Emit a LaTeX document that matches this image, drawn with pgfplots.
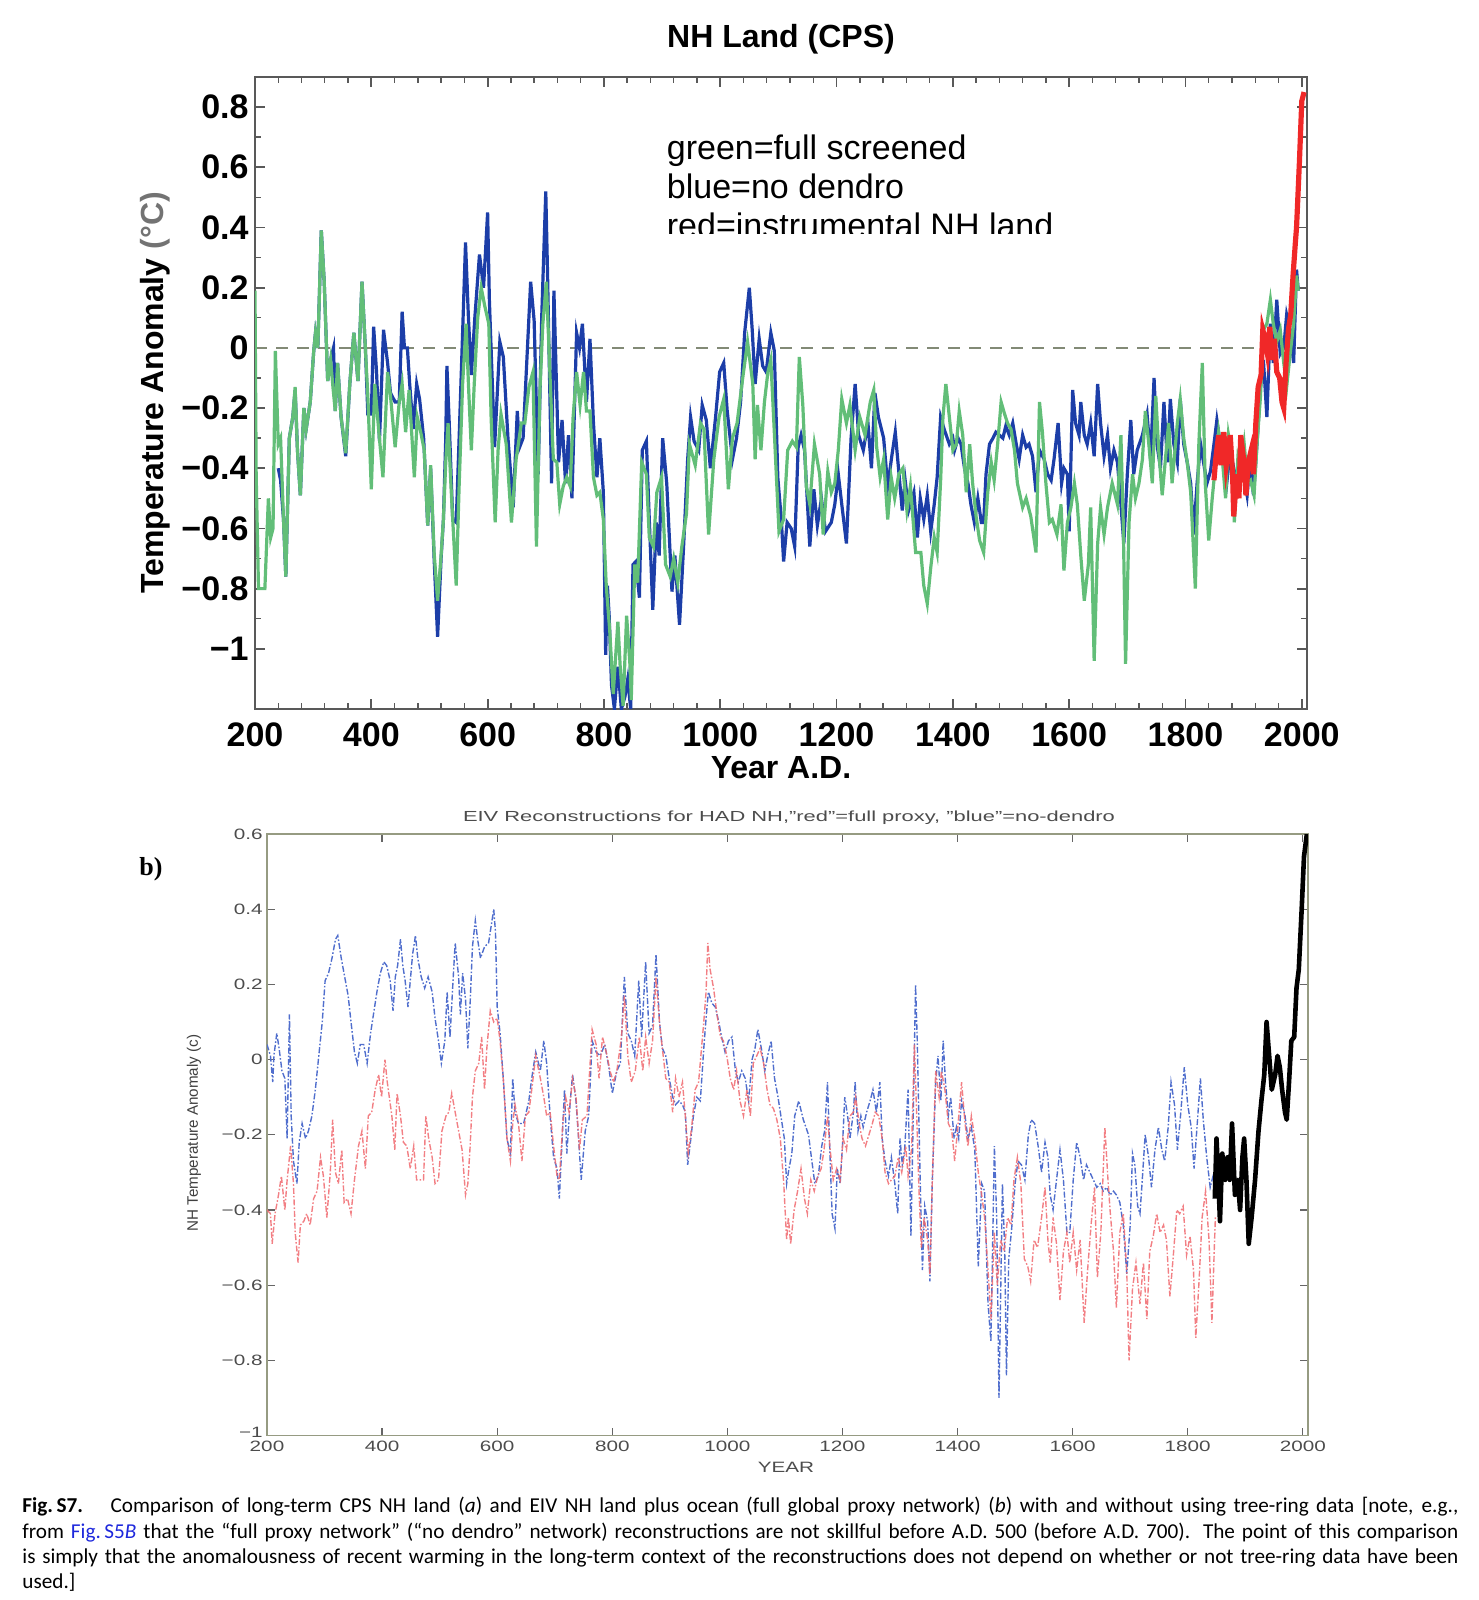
\documentclass[border=0pt]{standalone}
\usepackage{pgfplots}
\pgfplotsset{compat=1.18}
\usepackage{fontspec}
\setmainfont{Liberation Sans}
\newfontfamily\capfont{Carlito}
\newfontfamily\serifb{Liberation Serif}
\definecolor{cgreen}{RGB}{98,190,120}
\definecolor{cblue}{RGB}{28,62,168}
\definecolor{cred}{RGB}{240,40,40}
\definecolor{bblue}{RGB}{80,110,205}
\definecolor{bred}{RGB}{240,105,110}
\definecolor{zline}{RGB}{130,138,118}
\definecolor{frametwo}{RGB}{150,155,130}
\definecolor{linkblue}{RGB}{30,40,220}
\newcommand{\hs}[1]{\scalebox{1.38}[1]{#1}}
\begin{document}
\begin{tikzpicture}
\useasboundingbox (0,0) rectangle (739pt,-800pt);
% ---------------- top panel ----------------
\begin{axis}[
  at={(127.5pt,-354.5pt)}, anchor=south west, scale only axis,
  width=526pt, height=316pt,
  xmin=200, xmax=2009, ymin=-1.2, ymax=0.9,
  xtick={200,400,600,800,1000,1200,1400,1600,1800,2000},
  xticklabels={200,400,600,800,1000,1200,1400,1600,1800,2000},
  ytick={-1,-0.8,-0.6,-0.4,-0.2,0,0.2,0.4,0.6,0.8},
  yticklabels={−1,−0.8,−0.6,−0.4,−0.2,0,0.2,0.4,0.6,0.8},
  minor x tick num=4, minor y tick num=1,
  tick pos=both, tick align=inside,
  major tick length=5pt, minor tick length=3pt,
  axis line style={draw=black!65, line width=0.9pt},
  every tick/.style={black!65, line width=0.9pt},
  every minor tick/.style={black!65, line width=0.7pt},
  tick label style={font=\bfseries\fontsize{17}{20}\selectfont},
  xticklabel style={inner sep=0pt, yshift=-6.5pt},
  yticklabel style={inner sep=0pt, xshift=-3pt},
]
\addplot[zline, line width=1pt, dash pattern=on 6pt off 4.5pt] coordinates {(200,0) (2009,0)};
% blue = no dendro
\addplot[cblue, line width=1.6pt] coordinates {
(240,-0.40)(244,-0.44)(249,-0.57)(253,-0.76)(259,-0.30)(265,-0.23)(269,-0.14)(273,-0.34)(278,-0.49)(284,-0.20)(288,-0.27)(295,-0.18)(301,-0.01)(304,0.05)(308,0.00)(314,0.39)(319,0.22)(325,-0.11)(330,-0.04)(335,0.00)(338,-0.21)(342,-0.05)(348,-0.23)(356,-0.36)(363,-0.12)(370,0.05)(377,-0.11)(384,0.22)(390,-0.01)(394,-0.22)(400,-0.22)(404,0.07)(409,-0.08)(414,-0.31)(421,0.06)(428,-0.05)(433,-0.15)(441,-0.18)(448,-0.18)(453,0.12)(457,0.00)(462,0.00)(466,-0.12)(472,-0.27)(478,-0.12)(483,-0.17)(490,-0.30)(497,-0.59)(502,-0.40)(508,-0.70)(514,-0.96)(520,-0.70)(524,-0.57)(528,-0.30)(530,-0.06)(534,-0.25)(540,-0.57)(546,-0.58)(551,-0.30)(557,0.05)(562,0.35)(567,0.10)(572,-0.09)(578,0.10)(586,0.31)(593,0.20)(600,0.45)(603,0.16)(612,-0.33)(621,0.02)(627,-0.03)(635,-0.30)(644,-0.53)(651,-0.21)(655,-0.33)(661,-0.30)(674,0.22)(680,0.09)(687,-0.42)(693,0.10)(700,0.52)(703,0.25)(710,-0.45)(714,0.19)(722,-0.38)(728,-0.24)(734,-0.45)(739,-0.29)(745,-0.50)(753,0.05)(758,0.00)(763,0.08)(770,-0.18)(776,0.03)(782,-0.25)(788,-0.43)(793,-0.30)(799,-0.48)(803,-1.02)
(806,-0.79)(809,-0.89)(813,-1.12)(818,-1.20)(824,-1.06)(830,-1.20)(836,-1.16)(841,-1.10)(846,-1.20)(850,-0.72)(855,-0.71)(861,-0.83)(866,-0.34)(873,-0.31)(878,-0.57)(884,-0.87)(890,-0.58)(895,-0.69)(901,-0.30)(908,-0.45)(917,-0.81)(922,-0.69)(930,-0.92)(937,-0.66)(944,-0.37)(949,-0.23)(955,-0.31)(963,-0.34)(969,-0.19)(976,-0.24)(983,-0.40)(992,-0.23)(999,-0.08)(1006,-0.05)(1012,-0.21)(1021,-0.37)(1028,-0.30)(1035,-0.18)(1042,0.05)(1050,0.20)(1055,0.06)(1060,-0.12)(1067,0.03)(1073,-0.06)(1079,-0.08)(1087,0.05)(1093,-0.01)(1099,-0.43)(1105,-0.57)(1109,-0.71)(1115,-0.58)(1122,-0.60)(1128,-0.66)(1134,-0.33)(1139,-0.29)(1145,-0.34)(1154,-0.66)(1161,-0.47)(1167,-0.59)(1174,-0.50)(1181,-0.61)(1191,-0.58)(1197,-0.52)(1203,-0.42)(1209,-0.52)(1217,-0.65)(1225,-0.30)(1232,-0.12)(1238,-0.29)(1246,-0.34)(1254,-0.25)(1260,-0.40)(1266,-0.15)(1272,-0.23)(1281,-0.30)(1288,-0.46)(1295,-0.36)(1301,-0.28)(1307,-0.41)(1313,-0.54)(1318,-0.44)(1324,-0.54)(1333,-0.48)(1339,-0.63)(1344,-0.50)(1350,-0.57)(1356,-0.49)(1362,-0.61)(1368,-0.52)(1373,-0.43)(1379,-0.23)(1385,-0.27)(1394,-0.32)(1400,-0.30)
(1403,-0.34)(1409,-0.30)(1414,-0.32)(1420,-0.40)(1426,-0.45)(1431,-0.52)(1437,-0.58)(1443,-0.50)(1449,-0.58)(1453,-0.58)(1457,-0.42)(1463,-0.32)(1469,-0.30)(1474,-0.28)(1480,-0.29)(1486,-0.30)(1491,-0.26)(1497,-0.29)(1503,-0.25)(1509,-0.32)(1514,-0.37)(1520,-0.29)(1526,-0.33)(1531,-0.32)(1537,-0.36)(1543,-0.48)(1549,-0.34)(1557,-0.37)(1563,-0.42)(1569,-0.44)(1574,-0.37)(1581,-0.25)(1587,-0.45)(1591,-0.40)(1597,-0.42)(1600,-0.61)(1606,-0.14)(1611,-0.25)(1617,-0.29)(1620,-0.18)(1626,-0.29)(1631,-0.32)(1637,-0.25)(1643,-0.36)(1649,-0.12)(1654,-0.25)(1660,-0.36)(1666,-0.29)(1671,-0.40)(1677,-0.34)(1683,-0.38)(1689,-0.52)(1694,-0.65)(1700,-0.42)(1706,-0.24)(1711,-0.42)(1717,-0.34)(1726,-0.29)(1734,-0.22)(1740,-0.37)(1746,-0.10)(1751,-0.32)(1757,-0.40)(1763,-0.18)(1769,-0.38)(1774,-0.17)(1780,-0.32)(1786,-0.38)(1791,-0.17)(1797,-0.32)(1803,-0.38)(1809,-0.45)(1814,-0.62)(1820,-0.45)(1826,-0.32)(1831,-0.38)(1837,-0.45)(1843,-0.41)(1849,-0.32)(1854,-0.24)(1860,-0.32)(1866,-0.40)(1871,-0.45)(1877,-0.34)(1883,-0.40)(1889,-0.45)(1894,-0.40)(1900,-0.42)(1906,-0.49)(1911,-0.38)(1917,-0.49)(1923,-0.32)(1929,-0.13)(1934,-0.04)(1940,-0.23)(1946,0.08)(1951,-0.05)(1957,0.16)(1963,-0.02)(1969,0.00)(1974,0.11)(1980,0.06)(1986,-0.05)(1991,0.26)(1994,0.19)
};
% green = full screened
\addplot[cgreen, line width=1.6pt] coordinates {
(200,0.19)(202,-0.42)(206,-0.80)(217,-0.80)(223,-0.50)(227,-0.63)(231,-0.60)(235,-0.01)(240,-0.32)(244,-0.30)(249,-0.57)(253,-0.76)(259,-0.30)(265,-0.23)(269,-0.13)(273,-0.34)(278,-0.49)(284,-0.20)(288,-0.27)(295,-0.18)(301,-0.01)(304,0.05)(308,0.00)(314,0.39)(319,0.22)(325,-0.11)(330,-0.04)(334,-0.13)(338,-0.21)(342,-0.05)(348,-0.23)(356,-0.35)(363,-0.12)(370,0.05)(377,-0.11)(384,0.22)(390,-0.01)(394,-0.16)(400,-0.47)(406,-0.12)(413,-0.28)(420,-0.43)(428,-0.08)(433,-0.16)(441,-0.33)(448,-0.18)(453,-0.12)(459,-0.28)(465,-0.14)(474,-0.43)(479,-0.23)(485,-0.28)(491,-0.34)(497,-0.59)(502,-0.39)(508,-0.68)(514,-0.84)(520,-0.69)(524,-0.57)(528,-0.38)(532,-0.25)(537,-0.46)(546,-0.79)(551,-0.46)(557,-0.12)(563,0.08)(567,-0.12)(572,-0.34)(577,-0.12)(583,0.10)(589,0.20)(595,0.14)(602,0.08)(606,-0.23)(613,-0.58)(618,-0.34)(623,-0.22)(632,-0.32)(641,-0.58)(649,-0.37)(658,-0.25)(664,-0.25)(671,-0.13)(678,-0.08)(684,-0.66)(690,-0.14)(695,0.08)(701,0.22)(706,-0.03)(713,-0.37)(719,-0.38)(724,-0.52)(730,-0.46)(736,-0.43)(742,-0.46)(747,-0.23)(753,-0.08)(759,-0.19)(765,-0.08)(770,-0.21)(776,-0.21)(782,-0.43)(788,-0.49)(793,-0.48)(799,-0.57)
(804,-0.79)(810,-0.94)(816,-1.15)(824,-0.91)(828,-1.06)(833,-1.19)(839,-0.89)(845,-1.06)(847,-1.17)(853,-0.72)(858,-0.78)(865,-0.38)(873,-0.42)(878,-0.63)(885,-0.66)(891,-0.48)(899,-0.43)(906,-0.72)(914,-0.76)(920,-0.70)(927,-0.78)(934,-0.66)(942,-0.55)(947,-0.32)(957,-0.39)(966,-0.25)(972,-0.27)(980,-0.62)(989,-0.37)(998,-0.23)(1006,-0.17)(1014,-0.47)(1021,-0.30)(1029,-0.25)(1038,-0.11)(1047,0.02)(1056,-0.12)(1060,-0.37)(1064,-0.19)(1070,-0.34)(1076,-0.18)(1082,-0.08)(1087,-0.04)(1093,-0.28)(1101,-0.61)(1109,-0.57)(1116,-0.34)(1124,-0.31)(1131,-0.33)(1136,-0.03)(1142,-0.19)(1148,-0.46)(1154,-0.52)(1162,-0.32)(1171,-0.42)(1177,-0.62)(1185,-0.41)(1191,-0.48)(1197,-0.45)(1203,-0.34)(1209,-0.17)(1217,-0.25)(1223,-0.19)(1232,-0.34)(1240,-0.23)(1249,-0.29)(1258,-0.18)(1264,-0.14)(1269,-0.33)(1275,-0.43)(1281,-0.37)(1288,-0.57)(1294,-0.43)(1300,-0.50)(1307,-0.42)(1314,-0.40)(1321,-0.54)(1327,-0.46)(1336,-0.68)(1345,-0.68)(1350,-0.79)(1356,-0.85)(1362,-0.73)(1368,-0.63)(1373,-0.68)(1379,-0.44)(1383,-0.23)(1388,-0.12)(1394,-0.23)(1400,-0.34)
(1406,-0.32)(1411,-0.21)(1417,-0.29)(1423,-0.48)(1429,-0.32)(1434,-0.45)(1440,-0.56)(1446,-0.64)(1453,-0.68)(1460,-0.48)(1466,-0.38)(1471,-0.44)(1477,-0.32)(1483,-0.18)(1489,-0.22)(1494,-0.25)(1500,-0.27)(1506,-0.34)(1511,-0.45)(1520,-0.53)(1526,-0.50)(1534,-0.56)(1543,-0.68)(1549,-0.18)(1554,-0.28)(1560,-0.45)(1566,-0.58)(1571,-0.57)(1579,-0.62)(1586,-0.52)(1591,-0.74)(1597,-0.58)(1603,-0.53)(1609,-0.45)(1614,-0.52)(1620,-0.69)(1626,-0.84)(1633,-0.72)(1637,-0.53)(1643,-1.04)(1649,-0.65)(1654,-0.53)(1660,-0.62)(1666,-0.53)(1674,-0.45)(1683,-0.52)(1689,-0.29)(1693,-0.58)(1697,-1.05)(1703,-0.58)(1709,-0.42)(1714,-0.50)(1720,-0.45)(1726,-0.37)(1731,-0.21)(1737,-0.32)(1743,-0.45)(1749,-0.16)(1754,-0.34)(1760,-0.49)(1766,-0.36)(1771,-0.25)(1777,-0.45)(1786,-0.25)(1791,-0.17)(1797,-0.30)(1803,-0.38)(1809,-0.48)(1817,-0.80)(1823,-0.32)(1829,-0.05)(1834,-0.45)(1840,-0.64)(1846,-0.50)(1851,-0.40)(1857,-0.28)(1863,-0.36)(1869,-0.50)(1874,-0.29)(1880,-0.36)(1884,-0.58)(1890,-0.37)(1895,-0.42)(1901,-0.32)(1907,-0.45)(1912,-0.44)(1918,-0.49)(1923,-0.32)(1929,-0.16)(1934,0.06)(1940,0.08)(1946,0.16)(1951,0.08)(1957,0.02)(1963,0.06)(1969,-0.05)(1974,-0.13)(1980,-0.02)(1986,0.08)(1991,0.24)(1994,0.19)
};
% red = instrumental
\addplot[cred, line width=2.6pt] coordinates {
(1849,-0.44)(1852,-0.37)(1857,-0.29)(1861,-0.39)(1866,-0.28)(1870,-0.39)(1877,-0.29)(1881,-0.42)(1883,-0.56)(1888,-0.42)(1892,-0.50)(1895,-0.29)(1900,-0.37)(1904,-0.49)(1908,-0.38)(1913,-0.34)(1917,-0.42)(1921,-0.25)(1925,-0.13)(1930,-0.09)(1933,0.06)(1937,0.03)(1941,-0.02)(1945,0.07)(1949,-0.04)(1953,0.03)(1957,-0.08)(1962,-0.10)(1966,-0.18)(1969,-0.20)(1973,-0.05)(1977,0.06)(1981,0.11)(1985,0.24)(1989,0.35)(1991,0.40)(1996,0.62)(2000,0.82)(2004,0.85)
};
\end{axis}
% top panel texts
\node[font=\bfseries\fontsize{16}{19}\selectfont] at (390.5pt,-19.5pt) {NH Land (CPS)};
\node[font=\bfseries\fontsize{16}{19}\selectfont, rotate=90] at (77.5pt,-196.5pt) {Temperature Anomaly \textcolor{black!55}{(°C)}};
\node[font=\bfseries\fontsize{16}{19}\selectfont] at (390.5pt,-384pt) {Year A.D.};
\begin{scope}
\clip (0pt,0pt) rectangle (739pt,-116.6pt);
\node[anchor=base west, inner sep=0pt, font=\fontsize{17}{20}\selectfont] at (333.25pt,-80pt) {green=full screened};
\node[anchor=base west, inner sep=0pt, font=\fontsize{17}{20}\selectfont] at (333.25pt,-99pt) {blue=no dendro};
\node[anchor=base west, inner sep=0pt, font=\fontsize{17}{20}\selectfont] at (333.25pt,-118.5pt) {red=instrumental NH land};
\end{scope}
% ---------------- bottom panel ----------------
\begin{axis}[
  at={(133.5pt,-717.75pt)}, anchor=south west, scale only axis,
  width=520.5pt, height=300.75pt,
  xmin=200, xmax=2009, ymin=-1, ymax=0.6,
  xtick={200,400,600,800,1000,1200,1400,1600,1800,2000},
  xticklabels={\hs{200},\hs{400},\hs{600},\hs{800},\hs{1000},\hs{1200},\hs{1400},\hs{1600},\hs{1800},\hs{2000}},
  ytick={-1,-0.8,-0.6,-0.4,-0.2,0,0.2,0.4,0.6},
  yticklabels={\raisebox{3pt}{\hs{−1}},\hs{−0.8},\hs{−0.6},\hs{−0.4},\hs{−0.2},\hs{0},\hs{0.2},\hs{0.4},\hs{0.6}},
  tick pos=both, tick align=inside, major tick length=4pt,
  axis line style={draw=frametwo, line width=0.9pt},
  every tick/.style={black!60, line width=0.6pt},
  tick label style={font=\fontsize{7.5}{9}\selectfont, text=black!70},
  xticklabel style={inner sep=0pt, yshift=-2.75pt},
  yticklabel style={inner sep=0pt, xshift=-2pt},
]
% blue = no dendro
\addplot[bblue, line width=0.7pt, dash pattern=on 3pt off 1pt on 0.8pt off 1pt] coordinates {
(200,0.04)(206,0.01)(210,-0.06)(212,0.01)(217,0.07)(221,0.03)(226,-0.03)(231,-0.05)(235,-0.21)(239,0.12)(242,-0.15)(246,-0.27)(252,-0.33)(256,-0.22)(261,-0.17)(267,-0.21)(272,-0.19)(278,-0.15)(284,-0.08)(290,0.01)(296,0.10)(301,0.21)(307,0.23)(313,0.27)(319,0.32)(323,0.33)(329,0.27)(335,0.22)(341,0.17)(346,0.10)(352,0.02)(357,-0.01)(362,0.04)(368,0.04)(374,-0.01)(380,0.07)(385,0.12)(391,0.18)(397,0.23)(403,0.26)(408,0.25)(414,0.21)(419,0.13)(423,0.22)(427,0.25)(432,0.32)(436,0.25)(440,0.21)(445,0.14)(449,0.21)(453,0.28)(458,0.33)(462,0.27)(468,0.22)(474,0.19)(480,0.22)(487,0.18)(492,0.11)(498,0.05)(503,-0.01)(509,0.05)(513,0.18)(518,0.06)(524,0.23)(527,0.31)(533,0.22)(536,0.12)(540,0.23)(545,0.16)(549,0.03)(553,0.15)(557,0.30)(562,0.37)(566,0.32)(571,0.27)(578,0.30)(585,0.31)(591,0.37)(594,0.40)(597,0.34)(600,0.14)(605,0.07)(611,-0.06)(617,-0.21)(623,-0.25)(627,-0.05)(631,-0.14)(637,-0.17)(646,-0.17)(655,-0.11)
(660,-0.05)(667,0.02)(675,-0.03)(681,0.05)(686,-0.01)(692,-0.15)(698,-0.26)(704,-0.29)(708,-0.37)(712,-0.24)(717,-0.08)(721,-0.25)(727,-0.11)(731,-0.04)(737,-0.11)(741,-0.20)(746,-0.32)(753,-0.19)(759,-0.15)(765,0.05)(772,0.02)(779,0.01)(787,0.04)(794,-0.02)(800,-0.09)(808,-0.03)(814,-0.01)(821,0.22)(827,0.07)(833,0.05)(839,0.01)(846,0.21)(851,0.06)(858,0.26)(864,0.07)(870,0.09)(876,0.28)(882,0.10)(887,0.03)(893,0.01)(899,-0.05)(905,-0.10)(910,-0.12)(916,-0.11)(922,-0.12)(927,-0.14)(931,-0.28)(935,-0.23)(941,-0.15)(947,-0.10)(953,-0.11)(959,0.03)(963,0.11)(967,0.18)(973,0.15)(979,0.14)(985,0.10)(990,0.06)(996,0.02)(1002,0.05)(1008,0.06)(1014,-0.03)(1019,-0.06)(1025,-0.03)(1031,-0.05)(1037,-0.11)(1043,0.00)(1048,0.03)(1053,0.08)(1059,0.03)(1065,-0.03)(1070,0.01)(1076,0.05)(1082,-0.05)(1088,-0.10)(1093,-0.15)(1099,-0.21)(1103,-0.33)
(1106,-0.30)(1112,-0.25)(1117,-0.15)(1124,-0.11)(1132,-0.16)(1141,-0.20)(1146,-0.26)(1152,-0.33)(1158,-0.31)(1164,-0.23)(1169,-0.19)(1174,-0.06)(1178,-0.24)(1182,-0.41)(1187,-0.45)(1191,-0.29)(1196,-0.33)(1200,-0.23)(1204,-0.10)(1209,-0.15)(1213,-0.21)(1219,-0.14)(1222,-0.06)(1227,-0.19)(1232,-0.15)(1236,-0.18)(1242,-0.14)(1248,-0.11)(1253,-0.08)(1259,-0.14)(1265,-0.06)(1269,-0.21)(1274,-0.27)(1280,-0.31)(1285,-0.26)(1291,-0.33)(1296,-0.41)(1300,-0.21)(1304,-0.28)(1308,-0.24)(1314,-0.08)(1319,-0.47)(1323,-0.15)(1327,0.20)(1330,0.05)(1335,-0.32)(1339,-0.56)(1343,-0.39)(1348,-0.43)(1352,-0.59)(1356,-0.33)(1362,-0.06)(1366,0.01)(1371,-0.11)(1375,0.05)(1379,-0.06)(1384,-0.15)(1388,-0.10)(1394,-0.21)(1398,-0.18)(1402,-0.21)(1407,-0.11)(1413,-0.15)(1418,-0.21)(1424,-0.18)(1430,-0.24)(1436,-0.55)(1442,-0.33)(1447,-0.35)(1453,-0.65)(1458,-0.75)(1464,-0.23)(1468,-0.42)(1472,-0.90)(1478,-0.33)(1482,-0.51)(1485,-0.84)(1489,-0.53)(1494,-0.45)(1500,-0.33)(1505,-0.27)(1511,-0.28)(1517,-0.32)(1523,-0.20)(1528,-0.16)(1534,-0.17)(1540,-0.23)(1546,-0.30)(1552,-0.22)
(1557,-0.26)(1561,-0.36)(1566,-0.40)(1572,-0.32)(1578,-0.24)(1584,-0.32)(1590,-0.46)(1595,-0.46)(1601,-0.32)(1607,-0.22)(1613,-0.26)(1619,-0.32)(1624,-0.28)(1630,-0.30)(1636,-0.32)(1642,-0.34)(1648,-0.33)(1653,-0.35)(1659,-0.34)(1665,-0.36)(1671,-0.35)(1676,-0.36)(1682,-0.38)(1688,-0.44)(1694,-0.57)(1700,-0.44)(1704,-0.25)(1708,-0.28)(1713,-0.39)(1717,-0.41)(1721,-0.32)(1726,-0.20)(1732,-0.26)(1737,-0.34)(1743,-0.24)(1749,-0.18)(1755,-0.24)(1760,-0.27)(1766,-0.18)(1771,-0.06)(1777,-0.12)(1782,-0.24)(1788,-0.14)(1794,-0.02)(1800,-0.12)(1806,-0.18)(1811,-0.29)(1817,-0.16)(1822,-0.05)(1827,-0.16)(1833,-0.26)(1839,-0.34)(1844,-0.31)(1850,-0.33)
};
% red = full proxy
\addplot[bred, opacity=0.85, line width=0.7pt, dash pattern=on 3pt off 1pt on 0.8pt off 1pt] coordinates {
(200,-0.40)(206,-0.41)(209,-0.49)(214,-0.41)(220,-0.36)(225,-0.31)(231,-0.40)(235,-0.32)(241,-0.23)(246,-0.33)(249,-0.46)(254,-0.54)(258,-0.44)(264,-0.43)(269,-0.41)(275,-0.44)(281,-0.37)(287,-0.35)(293,-0.26)(298,-0.31)(304,-0.42)(310,-0.30)(314,-0.16)(319,-0.30)(324,-0.33)(330,-0.24)(334,-0.38)(340,-0.37)(346,-0.41)(352,-0.32)(359,-0.23)(365,-0.19)(371,-0.29)(376,-0.15)(382,-0.14)(388,-0.08)(394,-0.04)(399,-0.10)(405,0.00)(409,-0.06)(417,-0.15)(422,-0.24)(426,-0.09)(432,-0.15)(437,-0.22)(443,-0.23)(449,-0.29)(455,-0.23)(460,-0.32)(466,-0.32)(472,-0.32)(476,-0.15)(481,-0.21)(487,-0.26)(492,-0.33)(498,-0.32)(504,-0.19)(511,-0.15)(516,-0.14)(521,-0.09)(527,-0.14)(533,-0.19)(539,-0.24)(545,-0.36)(549,-0.33)(553,-0.23)(557,-0.10)(562,-0.03)(568,-0.01)(573,0.06)(578,-0.08)(582,0.03)(588,0.13)(594,0.10)(600,0.11)(605,0.05)(611,-0.06)(617,-0.21)(623,-0.27)(627,-0.17)(631,-0.12)(637,-0.17)(643,-0.27)
(649,-0.15)(655,-0.14)(660,-0.08)(667,0.01)(675,-0.05)(681,-0.10)(686,-0.15)(692,-0.14)(698,-0.23)(704,-0.31)(708,-0.32)(714,-0.17)(719,-0.10)(725,-0.14)(731,-0.05)(737,-0.10)(743,-0.24)(748,-0.16)(756,-0.15)(765,0.08)(772,0.04)(777,-0.05)(783,0.06)(791,0.01)(796,-0.03)(802,-0.06)(808,-0.03)(816,0.06)(821,0.17)(827,0.01)(833,-0.06)(840,-0.03)(847,0.06)(853,-0.03)(858,0.06)(864,-0.01)(870,0.05)(876,0.22)(882,0.10)(887,0.03)(893,-0.05)(899,-0.06)(905,-0.14)(910,-0.05)(916,-0.10)(922,-0.06)(928,-0.17)(932,-0.25)(938,-0.18)(944,-0.08)(950,-0.06)(959,0.10)(963,0.18)(966,0.31)(970,0.24)(976,0.19)(982,0.12)(988,0.06)(993,0.05)(999,0.01)(1005,-0.05)(1011,-0.08)(1016,-0.03)(1022,-0.11)(1028,-0.15)(1034,-0.08)(1040,-0.15)(1045,-0.01)(1051,0.01)(1057,0.03)(1063,-0.01)(1069,-0.08)(1074,-0.12)(1080,-0.13)(1086,-0.16)(1092,-0.21)(1098,-0.33)(1103,-0.48)
(1106,-0.42)(1110,-0.49)(1116,-0.40)(1122,-0.35)(1128,-0.29)(1134,-0.37)(1139,-0.41)(1145,-0.32)(1151,-0.35)(1157,-0.31)(1163,-0.29)(1168,-0.24)(1174,-0.15)(1178,-0.23)(1184,-0.32)(1190,-0.29)(1196,-0.32)(1201,-0.21)(1207,-0.24)(1213,-0.15)(1219,-0.14)(1223,-0.10)(1229,-0.17)(1234,-0.21)(1240,-0.23)(1246,-0.20)(1252,-0.17)(1257,-0.14)(1263,-0.15)(1269,-0.21)(1274,-0.30)(1280,-0.33)(1285,-0.32)(1291,-0.31)(1297,-0.26)(1303,-0.30)(1310,-0.23)(1314,-0.31)(1320,-0.24)(1325,0.04)(1329,-0.15)(1333,-0.35)(1337,-0.50)(1342,-0.42)(1348,-0.48)(1352,-0.57)(1356,-0.33)(1362,-0.03)(1368,-0.10)(1372,-0.03)(1378,-0.08)(1384,-0.17)(1390,-0.19)(1395,-0.27)(1401,-0.17)(1407,-0.06)(1413,-0.17)(1418,-0.23)(1424,-0.15)(1430,-0.21)(1436,-0.30)(1442,-0.36)(1447,-0.42)(1453,-0.56)(1458,-0.69)(1464,-0.46)(1469,-0.60)(1475,-0.48)(1481,-0.51)(1487,-0.42)(1493,-0.44)(1498,-0.32)(1504,-0.26)(1510,-0.33)(1516,-0.53)(1522,-0.55)(1527,-0.59)(1533,-0.48)(1539,-0.50)(1546,-0.42)(1552,-0.34)
(1557,-0.48)(1561,-0.54)(1566,-0.42)(1572,-0.49)(1578,-0.64)(1584,-0.51)(1590,-0.46)(1595,-0.54)(1601,-0.46)(1607,-0.56)(1613,-0.48)(1620,-0.70)(1626,-0.56)(1632,-0.44)(1638,-0.34)(1643,-0.58)(1649,-0.46)(1656,-0.18)(1661,-0.31)(1665,-0.40)(1671,-0.51)(1676,-0.66)(1682,-0.46)(1688,-0.41)(1694,-0.56)(1698,-0.80)(1704,-0.61)(1710,-0.54)(1717,-0.65)(1723,-0.54)(1729,-0.69)(1734,-0.51)(1740,-0.47)(1746,-0.41)(1752,-0.46)(1758,-0.44)(1763,-0.48)(1769,-0.63)(1775,-0.52)(1781,-0.40)(1786,-0.41)(1792,-0.39)(1798,-0.52)(1804,-0.47)(1810,-0.56)(1814,-0.74)(1820,-0.58)(1825,-0.42)(1831,-0.35)(1837,-0.48)(1842,-0.70)(1846,-0.51)(1848,-0.42)
};
% black = instrumental
\addplot[black, line width=2.3pt, line join=round] coordinates {
(1847,-0.37)(1850,-0.21)(1853,-0.31)(1856,-0.43)(1860,-0.25)(1865,-0.32)(1869,-0.26)(1873,-0.32)(1877,-0.17)(1882,-0.36)(1887,-0.32)(1891,-0.40)(1895,-0.26)(1898,-0.21)(1902,-0.32)(1906,-0.49)(1911,-0.42)(1917,-0.32)(1923,-0.19)(1928,-0.11)(1933,-0.04)(1937,0.10)(1941,0.02)(1946,-0.08)(1952,-0.04)(1956,0.01)(1960,-0.02)(1964,-0.08)(1969,-0.14)(1972,-0.16)(1976,-0.06)(1980,0.05)(1985,0.06)(1989,0.19)(1993,0.24)(1998,0.40)(2002,0.54)(2007,0.60)
};
\end{axis}
% bottom panel texts
\node[text=black!70, font=\fontsize{7.3}{9}\selectfont] at (394.5pt,-409pt) {\scalebox{1.5}[1]{EIV Reconstructions for HAD NH,"red"=full proxy, "blue"=no-dendro}};
\node[text=black!75, font=\fontsize{7.6}{9}\selectfont, rotate=90] at (97pt,-566.5pt) {NH Temperature Anomaly (c)};
\node[text=black!70, font=\fontsize{7.5}{9}\selectfont] at (393pt,-733.5pt) {\hs{YEAR}};
\node[font=\serifb\bfseries\fontsize{13}{15}\selectfont] at (75.5pt,-434.5pt) {b)};
% caption
\node[anchor=north west, inner sep=0pt, align=left, font=\capfont\fontsize{10.6}{12.65}\selectfont] at (11pt,-748.4pt) {%
\makebox[718pt][s]{\mbox{\textbf{Fig.\,S7.}}\hspace{1.3em}Comparison of long-term CPS NH land (\textit{a}) and EIV NH land plus ocean (full global proxy network) (\textit{b}) with and without using tree-ring data [note, e.g.,}\\
\makebox[718pt][s]{from \mbox{\textcolor{linkblue}{Fig.\,S5\textit{B}}} that the “full proxy network” (“no dendro” network) reconstructions are not skillful before A.D. 500 (before A.D. 700). The point of this comparison}\\
\makebox[718pt][s]{is simply that the anomalousness of recent warming in the long-term context of the reconstructions does not depend on whether or not tree-ring data have been}\\
used.]};
\end{tikzpicture}
\end{document}
